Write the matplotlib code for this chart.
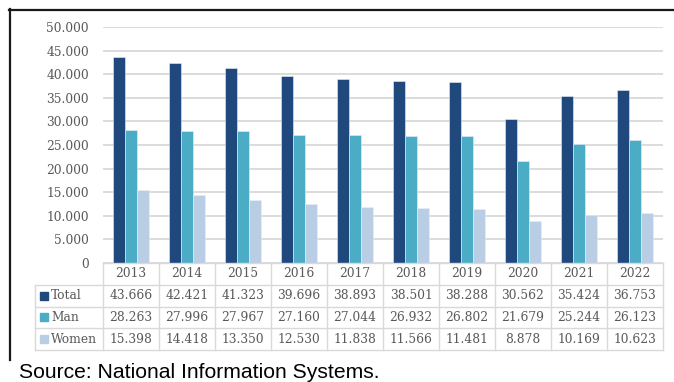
import numpy as np
import matplotlib
matplotlib.use("Agg")
import matplotlib.pyplot as plt
from matplotlib.lines import Line2D

# Data
years = ["2013", "2014", "2015", "2016", "2017", "2018", "2019", "2020", "2021", "2022"]
total = [43666, 42421, 41323, 39696, 38893, 38501, 38288, 30562, 35424, 36753]
man = [28263, 27996, 27967, 27160, 27044, 26932, 26802, 21679, 25244, 26123]
women = [15398, 14418, 13350, 12530, 11838, 11566, 11481, 8878, 10169, 10623]
series_names = ["Total", "Man", "Women"]
series_values = [total, man, women]
colors = ["#1F497D", "#4BACC6", "#B9CDE5"]
y_ticks = list(range(0, 50001, 5000))

W, H = 674, 382
SERIF = "DejaVu Serif"
FS = 8.8
TXT = "#595959"
GRID = "#d9d9d9"


def dotted(v):
    return f"{v:,}".replace(",", ".")


def rect(x0, y0, x1, y1):
    return [x0 / W, 1 - y1 / H, (x1 - x0) / W, (y1 - y0) / H]


fig = plt.figure(figsize=(W / 100, H / 100), dpi=100)
fig.patch.set_facecolor("white")

# Chart area
ax = fig.add_axes(rect(103, 27, 663, 263))
x = np.arange(len(years))
bw = 0.216
for i, (vals, c) in enumerate(zip(series_values, colors)):
    ax.bar(x + (i - 1) * bw, vals, bw, color=c, edgecolor="#e8eef6",
           linewidth=0.4, zorder=3)
ax.set_xlim(-0.5, len(years) - 0.5)
ax.set_ylim(0, 50000)
ax.set_yticks(y_ticks)
ax.set_yticklabels([dotted(v) for v in y_ticks], fontfamily=SERIF,
                   fontsize=FS, color=TXT)
ax.tick_params(axis="y", length=0, pad=10)
ax.set_xticks([])
ax.yaxis.grid(True, color=GRID, linewidth=1.3, zorder=0)
for s in ax.spines.values():
    s.set_visible(False)

# Data table below the chart
label_w = 68 / 56.0
tx = fig.add_axes(rect(35, 263, 663, 350))
tx.set_xlim(-0.5 - label_w, len(years) - 0.5)
tx.set_ylim(4, 0)
tx.axis("off")
n = len(years)
tlw = 1.0
tx.plot([-0.5, n - 0.5], [0, 0], color=GRID, lw=tlw, clip_on=False)
for r in range(1, 5):
    tx.plot([-0.5 - label_w, n - 0.5], [r, r], color=GRID, lw=tlw, clip_on=False)
for k in range(n + 1):
    tx.plot([-0.5 + k, -0.5 + k], [0, 4], color=GRID, lw=tlw, clip_on=False)
tx.plot([-0.5 - label_w] * 2, [1, 4], color=GRID, lw=tlw, clip_on=False)

for j, yr in enumerate(years):
    tx.text(j, 0.5, yr, ha="center", va="center", fontfamily=SERIF,
            fontsize=FS, color=TXT)
for r, (name, vals, c) in enumerate(zip(series_names, series_values, colors), start=1):
    tx.plot(-0.5 - label_w + 9 / 56.0, r + 0.5, marker="s", ms=5.8, color=c,
            mec=c, clip_on=False)
    tx.text(-0.5 - label_w + 16 / 56.0, r + 0.5, name, ha="left", va="center",
            fontfamily=SERIF, fontsize=FS, color=TXT)
    for j, v in enumerate(vals):
        tx.text(j, r + 0.5, dotted(v), ha="center", va="center",
                fontfamily=SERIF, fontsize=FS, color=TXT)

# Frame (top and left edges)
fig.add_artist(Line2D([9 / W, 1.0], [1 - 9.5 / H] * 2, color="#1a1a1a", lw=1.6))
fig.add_artist(Line2D([9.5 / W] * 2, [1 - 9 / H, 1 - 360 / H], color="#1a1a1a", lw=1.6))

fig.text(19 / W, 1 - 378 / H, "Source: National Information Systems.",
         fontfamily="Liberation Sans", fontsize=15.2, color="black", va="baseline")

fig.savefig("out.png", dpi=100)
